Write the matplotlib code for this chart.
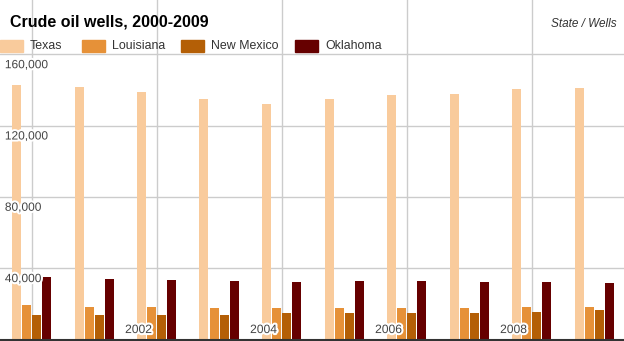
import numpy as np
import matplotlib.pyplot as plt
import matplotlib.patheffects as pe
from matplotlib.patches import Rectangle

plt.rcParams['font.family'] = ['Liberation Sans', 'DejaVu Sans']

years = [2000, 2001, 2002, 2003, 2004, 2005, 2006, 2007, 2008, 2009]
states = ['Texas', 'Louisiana', 'New Mexico', 'Oklahoma']
texas = [142900, 141800, 139000, 135000, 132200, 135000, 137300, 137800, 140600, 141200]
louisiana = [19100, 18300, 18300, 17800, 17800, 17800, 17800, 17800, 18300, 18300]
new_mexico = [13500, 14000, 14000, 14000, 14600, 14600, 15100, 15100, 15700, 16300]
oklahoma = [35300, 34000, 33500, 32900, 32400, 32900, 32900, 32400, 32400, 31800]
series = [texas, louisiana, new_mexico, oklahoma]
colors = ['#f9cb9c', '#e69138', '#b45f06', '#660000']
yticks = [40000, 80000, 120000, 160000]
year_labels = [2002, 2004, 2006, 2008]

fig = plt.figure(figsize=(6.24, 3.41), dpi=100)
ax = fig.add_axes([0, 1.5 / 341, 1, 1 - 1.5 / 341])

x = np.arange(len(years))
w = 0.144
step = 0.16
for i, (vals, c) in enumerate(zip(series, colors)):
    ax.bar(x + (i - 1.5) * step, vals, width=w, color=c, zorder=2)

ax.set_xlim(-0.504, 9.48)
ax.set_ylim(0, 190500)

# grid
for yv in yticks:
    ax.axhline(yv, color='#cccccc', lw=1, zorder=1)
for xv in range(0, 10, 2):
    ax.axvline(xv, color='#cccccc', lw=1, zorder=1)

for s in ['top', 'right', 'left']:
    ax.spines[s].set_visible(False)
ax.spines['bottom'].set_color('#333333')
ax.spines['bottom'].set_linewidth(1.5)
ax.spines['bottom'].set_zorder(4)
ax.set_xticks([])
ax.set_yticks([])

halo = [pe.withStroke(linewidth=3, foreground='white')]
for yv in yticks:
    ax.annotate(f'{yv:,}', xy=(0, yv), xycoords=('axes fraction', 'data'),
                xytext=(3.5, -3.5), textcoords='offset points', ha='left', va='top',
                fontsize=8.6, color='#444444', path_effects=halo, zorder=5)
for yr in year_labels:
    ax.annotate(str(yr), xy=(years.index(yr), 0), xytext=(-3, 2.5),
                textcoords='offset points', ha='right', va='bottom',
                fontsize=8.7, color='#444444', path_effects=halo, zorder=5)

fig.text(10 / 624, 1 - 22 / 341, 'Crude oil wells, 2000-2009', fontsize=11.5,
         fontweight='bold', color='#000000', ha='left', va='center')
fig.text(617 / 624, 1 - 24 / 341, 'State / Wells', fontsize=8.5, style='italic',
         color='#333333', ha='right', va='center')

# legend
sw_x = [0, 82, 181, 295]
for sx, name, c in zip(sw_x, states, colors):
    fig.patches.append(Rectangle((sx / 624, 1 - 52 / 341), 23 / 624, 12 / 341,
                                 transform=fig.transFigure, color=c, zorder=5))
    fig.text((sx + 30) / 624, 1 - 46 / 341, name, fontsize=8.9, color='#333333',
             ha='left', va='center')

fig.savefig('out.png', dpi=100)
